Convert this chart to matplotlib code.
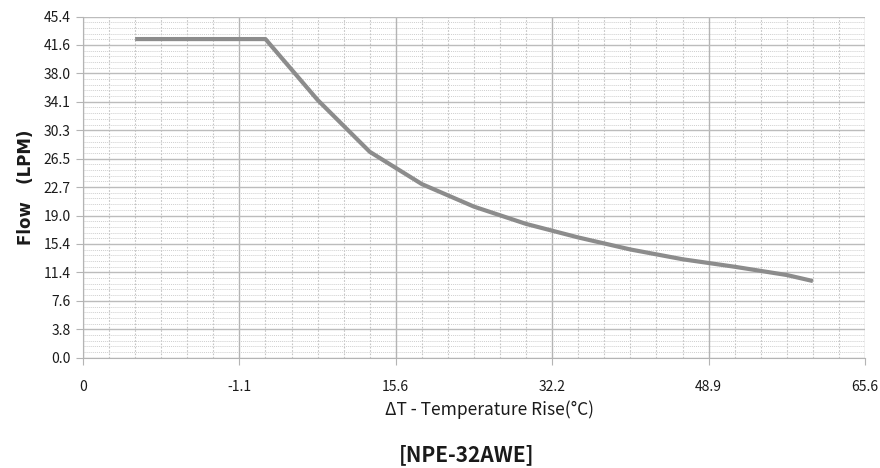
import matplotlib
matplotlib.use('Agg')
import matplotlib.pyplot as plt
import numpy as np

# temperature rise (axis units, evenly spaced ticks) vs flow in LPM
temp_rise = [10, 35, 45, 55, 65, 75, 85, 95, 105, 115, 125, 135, 140]
flow_lpm = [42.4, 42.4, 34.3, 27.4, 23.1, 20.1, 17.8, 16.0, 14.4, 13.1, 12.1, 11.0, 10.2]

x_ticks = [0, 30, 60, 90, 120, 150]
x_labels = ['0', '-1.1', '15.6', '32.2', '48.9', '65.6']
y_labels = ['0.0', '3.8', '7.6', '11.4', '15.4', '19.0', '22.7',
            '26.5', '30.3', '34.1', '38.0', '41.6', '45.4']

plt.rcParams['font.family'] = ['Noto Sans CJK KR', 'DejaVu Sans']

fig = plt.figure(figsize=(8.8, 4.68), dpi=100)
ax = fig.add_axes([0.0943, 0.2357, 0.8887, 0.729])

y_top = 45.4
y_ticks = np.linspace(0, y_top, 13)

# minor grid
for xm in np.arange(0, 151, 5):
    if xm % 30:
        ax.axvline(xm, color='#c4c4c4', lw=0.8, ls=(0, (1.5, 1.5)), zorder=1)
for ym in np.linspace(0, y_top, 61):
    ax.axhline(ym, color='#cfcfcf', lw=0.7, ls=(0, (1, 1)), zorder=1)
# major grid
for xt in x_ticks:
    ax.axvline(xt, color='#b4b4b4', lw=1.0, zorder=2)
for yt in y_ticks:
    ax.axhline(yt, color='#bcbcbc', lw=1.0, zorder=2)

ax.plot(temp_rise, flow_lpm, color='#8c8c8c', lw=3.0, solid_capstyle='butt', zorder=3)

ax.set_xlim(0, 150)
ax.set_ylim(0, y_top)
ax.set_xticks(x_ticks)
ax.set_xticklabels(x_labels, fontweight='medium')
ax.set_yticks(y_ticks)
ax.set_yticklabels(y_labels, fontweight='medium')
ax.tick_params(axis='both', length=5, color='#b4b4b4', labelsize=10, labelcolor='#1a1a1a')
ax.tick_params(axis='x', pad=11)
ax.tick_params(axis='y', pad=4)
for s in ax.spines.values():
    s.set_visible(False)
ax.spines['left'].set_visible(True)
ax.spines['left'].set_color('#b4b4b4')
ax.spines['bottom'].set_visible(True)
ax.spines['bottom'].set_color('#b4b4b4')

fig.text(0.029, 0.60, 'Flow   (LPM)', rotation=90, ha='center', va='center',
         fontsize=12, fontweight='bold', family='DejaVu Sans', color='#1a1a1a')
fig.text(0.556, 0.124, 'ΔT - Temperature Rise(°C)', ha='center', va='center',
         fontsize=12.5, fontweight='medium', color='#1a1a1a')
fig.text(0.53, 0.028, '[NPE-32AWE]', ha='center', va='center',
         fontsize=15, fontweight='bold', color='#1a1a1a')

fig.savefig('out.png', dpi=100)
